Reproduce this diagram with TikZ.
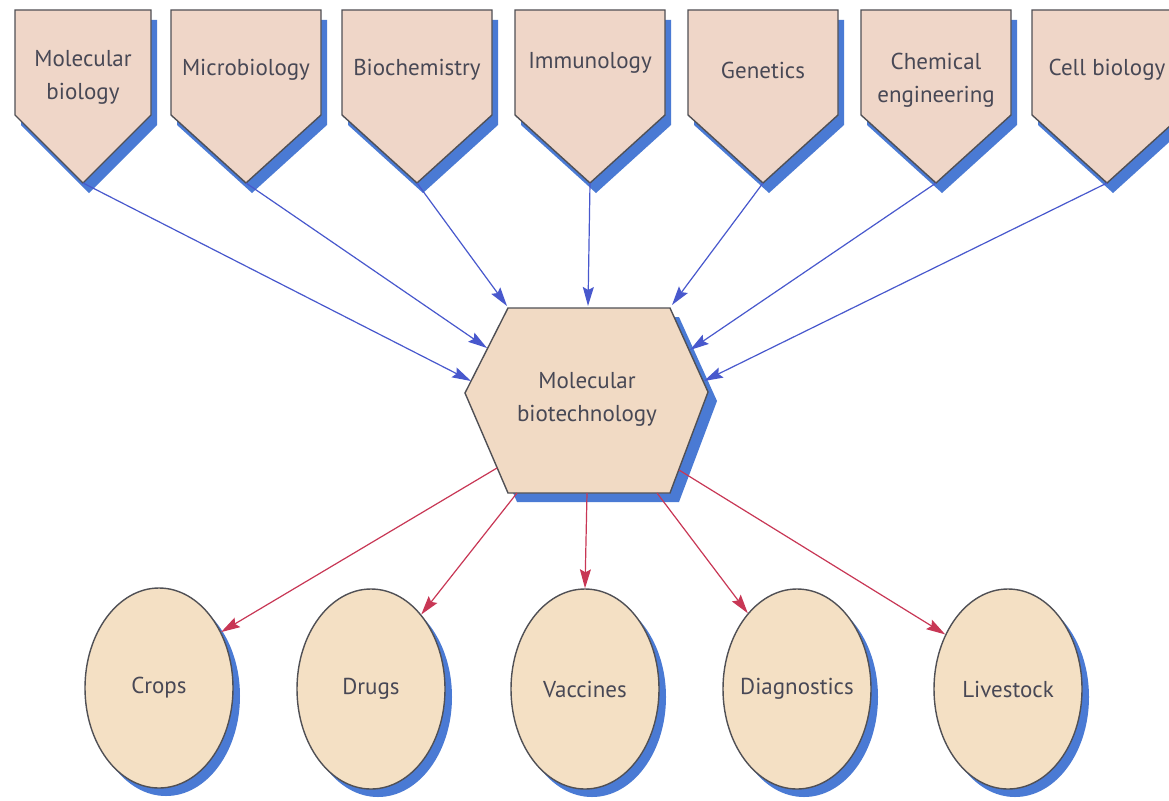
\documentclass[tikz,border=0pt]{standalone}
\usepackage{fontspec}
\setmainfont{PT Sans}
\usetikzlibrary{arrows.meta,shapes.geometric,shadows}
\definecolor{pentfill}{RGB}{239,214,200}
\definecolor{hexfill}{RGB}{241,218,196}
\definecolor{ellfill}{RGB}{244,224,196}
\definecolor{shadowblue}{RGB}{74,122,212}
\definecolor{edgegray}{RGB}{80,80,85}
\definecolor{textgray}{RGB}{72,72,85}
\definecolor{arrowblue}{RGB}{72,88,205}
\definecolor{arrowred}{RGB}{200,55,85}
\tikzset{
  shapeline/.style={draw=edgegray, line width=1.4pt},
  lbl/.style={font=\fontsize{23}{33}\selectfont, text=textgray, align=center, inner sep=0pt},
  ell/.style={ellipse, shapeline, fill=ellfill, minimum width=148pt, minimum height=200pt, inner sep=0pt,
    general shadow={shadow xshift=7pt, shadow yshift=-8pt, fill=shadowblue}},
  bluearrow/.style={draw=arrowblue, line width=1.2pt, -{Stealth[length=19pt,width=11pt,inset=3pt]}},
  redarrow/.style={draw=arrowred, line width=1.2pt, -{Stealth[length=19pt,width=11pt,inset=3pt]}},
}
% #1 name, #2 centre x, #3 half width, #4 text, #5 text y
\newcommand\pentbox[5]{%
  \fill[shadowblue, shift={(6,10)}] (#2-#3,10) -- (#2+#3,10) -- (#2+#3,115) -- (#2,183) -- (#2-#3,115) -- cycle;
  \path[shapeline, fill=pentfill] (#2-#3,10) -- (#2+#3,10) -- (#2+#3,115) -- (#2,183) -- (#2-#3,115) -- cycle;
  \node[lbl] (#1) at (#2,#5) {#4};
  \coordinate (#1-tip) at (#2,183);
}
\begin{document}
\begin{tikzpicture}[x=1pt,y=-1pt]
\useasboundingbox (0,0) rectangle (1169,800);
\clip (0,0) rectangle (1169,800);
\fill[white] (0,0) rectangle (1169,800);

\pentbox{molbio}{83}{68}{Molecular\\biology}{77}
\pentbox{micro}{246}{75}{Microbiology}{70}
\pentbox{biochem}{417}{75}{Biochemistry}{70}
\pentbox{immuno}{590}{75}{Immunology}{63}
\pentbox{genet}{763}{75}{Genetics}{70}
\pentbox{chemeng}{936}{75}{Chemical\\engineering}{80}
\pentbox{cellbio}{1107}{75}{Cell biology}{70}

% hexagon
\fill[shadowblue, shift={(9,9)}] (508,308) -- (670,308) -- (708,392) -- (670,493) -- (508,493) -- (465,393) -- cycle;
\path[shapeline, fill=hexfill] (508,308) -- (670,308) -- (708,392) -- (670,493) -- (508,493) -- (465,393) -- cycle;
\node[lbl] (hex) at (587,399) {Molecular\\biotechnology};

\coordinate (in1) at (471,381);
\coordinate (in2) at (487,348);
\coordinate (in3) at (507,306);
\coordinate (in4) at (588,306);
\coordinate (in5) at (672,305);
\coordinate (in6) at (690,350);
\coordinate (in7) at (704,381);

\coordinate (out1) at (497,468);
\coordinate (out2) at (517,493);
\coordinate (out3) at (587,493);
\coordinate (out4) at (657,493);
\coordinate (out5) at (679,470);

% ellipses
\node[ell] (crops) at (159,688) {};
\node[ell] (drugs) at (371,689) {};
\node[ell] (vacc) at (585,689) {};
\node[ell] (diag) at (797,689) {};
\node[ell] (live) at (1008,689) {};
\node[lbl] at (crops) {Crops};
\node[lbl] at (drugs) {Drugs};
\node[lbl] at (vacc) {Vaccines};
\node[lbl] at (diag) {Diagnostics};
\node[lbl] at (live) {Livestock};

% connectors
\draw[bluearrow] (molbio-tip) -- (in1);
\draw[bluearrow] (micro-tip) -- (in2);
\draw[bluearrow] (biochem-tip) -- (in3);
\draw[bluearrow] (immuno-tip) -- (in4);
\draw[bluearrow] (genet-tip) -- (in5);
\draw[bluearrow] (chemeng-tip) -- (in6);
\draw[bluearrow] (cellbio-tip) -- (in7);

\draw[redarrow] (out1) -- (crops.42);
\draw[redarrow] (out2) -- (drugs.56);
\draw[redarrow] (out3) -- (vacc.90);
\draw[redarrow] (out4) -- (diag.123);
\draw[redarrow] (out5) -- (live.139);
\end{tikzpicture}
\end{document}
